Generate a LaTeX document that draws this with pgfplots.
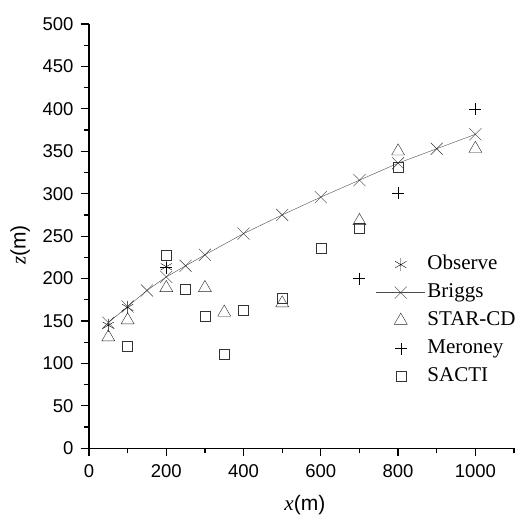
\documentclass[border=0pt]{standalone}
\usepackage{fontspec}
\setmainfont{Liberation Serif}
\setsansfont{Liberation Sans}
\usepackage{pgfplots}
\pgfplotsset{compat=1.18}
\begin{document}
\begin{tikzpicture}
\pgfplotsset{myleg/.style={legend image code/.code={\draw[mark repeat=2,mark phase=2,##1] plot coordinates {(0bp,0bp) (24.5bp,0bp) (49bp,0bp)};}}}
\begin{axis}[
  anchor=origin, at={(0,0)},
  scale only axis, width=425bp, height=424.3bp,
  xmin=0, xmax=1100, ymin=0, ymax=500,
  axis x line*=bottom, axis y line*=left,
  axis line style={line width=1.4bp},
  xtick={0,200,...,1000}, minor xtick={100,300,...,1100},
  ytick={0,50,...,500}, minor ytick={25,75,...,475},
  tick align=outside, major tick length=8bp, minor tick length=5bp,
  every tick/.style={line width=1.2bp, black},
  tick label style={font=\fontsize{18.5bp}{20bp}\sffamily},
  xticklabel style={yshift=-5bp},
  yticklabel style={xshift=-4bp},
  /pgf/number format/assume math mode=true,
  /pgf/number format/1000 sep={},
  xlabel={\textit{x}\textsf{(m)}},
  ylabel={\textit{z}\textsf{(m)}},
  label style={font=\fontsize{21bp}{24bp}\selectfont},
  xlabel style={at={(axis description cs:0.508,-0.134)}, anchor=center},
  ylabel style={at={(axis description cs:-0.162,0.479)}, anchor=center},
  legend style={draw=none, fill=none, at={(axis description cs:0.675,0.457)}, anchor=north west,
    font=\fontsize{21bp}{24bp}\selectfont, row sep=8bp, inner sep=0pt,
    nodes={inner ysep=0pt, inner xsep=2bp, text height=15bp, text depth=5bp}},
  legend cell align=left,
]
\addplot[only marks, mark=asterisk, mark size=6.5bp, black, myleg] coordinates {(50,145) (100,166) (200,214)};
\addlegendentry{Observe}
\addplot[thin, black!70, mark=x, mark size=8.5bp, mark options={solid, black!80}, myleg] coordinates {
(50,148) (100,167) (150,186) (200,202) (250,215) (300,228) (400,253) (500,275) (600,296) (700,316) (800,336) (900,353) (1000,370)};
\addlegendentry{Briggs}
\addplot[only marks, mark=triangle, mark size=7.5bp, black!85, myleg] coordinates {
(50,131) (100,151) (200,189) (300,189) (350,160) (500,171) (700,268) (800,350) (1000,353)};
\addlegendentry{STAR-CD}
\addplot[only marks, mark=+, mark size=6bp, black, myleg] coordinates {
(200,213) (700,200) (800,301) (1000,400)};
\addlegendentry{Meroney}
\addplot[only marks, mark=square, mark size=5bp, black!80, myleg] coordinates {
(100,120) (200,227) (250,188) (300,156) (350,111) (400,163) (500,177) (600,236) (700,259) (800,331)};
\addlegendentry{SACTI}
\end{axis}
\path[use as bounding box] (-89bp,-69.7bp) rectangle (439bp,448.3bp);
\end{tikzpicture}
\end{document}
